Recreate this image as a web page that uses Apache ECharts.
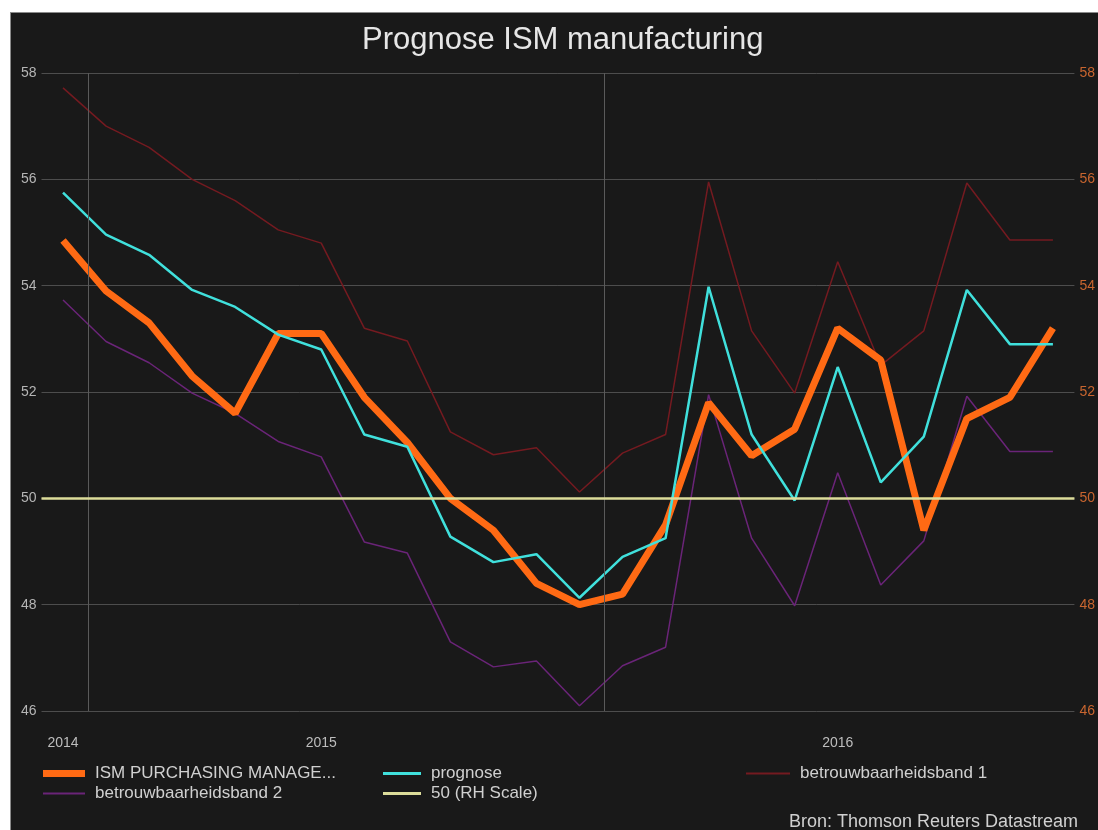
<!DOCTYPE html>
<html>
<head>
<meta charset="utf-8">
<script src="https://cdn.jsdelivr.net/npm/echarts@6/dist/echarts.min.js"></script>
<style>
  html, body { margin: 0; padding: 0; background: #ffffff; }
  #frame { position: absolute; left: 10px; top: 12px; width: 1088px; height: 818px;
           background: #191919; border-left: 1px solid #8a8a8a; border-top: 1px solid #8a8a8a; }
  #chart { position: absolute; left: 0; top: 0; width: 1098px; height: 830px; }
</style>
</head>
<body>
<div id="frame"></div>
<div id="chart"></div>
<script>
// maanden dec 2014 .. nov 2016
var months = ['2014-12', '2015-01', '2015-02', '2015-03', '2015-04', '2015-05', '2015-06',
  '2015-07', '2015-08', '2015-09', '2015-10', '2015-11', '2015-12', '2016-01', '2016-02',
  '2016-03', '2016-04', '2016-05', '2016-06', '2016-07', '2016-08', '2016-09', '2016-10', '2016-11']

var ism = [54.85, 53.9, 53.3, 52.3, 51.6, 53.1, 53.1, 51.9, 51.05, 50.0, 49.4, 48.4,
  48.0, 48.2, 49.5, 51.8, 50.8, 51.3, 53.2, 52.6, 49.4, 51.5, 51.9, 53.2]
var prognose = [55.75, 54.96, 54.58, 53.92, 53.6, 53.08, 52.8, 51.2, 50.97, 49.28, 48.8, 48.95,
  48.13, 48.9, 49.25, 53.98, 51.2, 49.96, 52.47, 50.3, 51.16, 53.92, 52.9, 52.9]
var band1 = [57.72, 57.0, 56.6, 56.0, 55.6, 55.05, 54.8, 53.2, 52.96, 51.25, 50.82, 50.95,
  50.12, 50.85, 51.2, 55.95, 53.15, 51.98, 54.45, 52.5, 53.15, 55.93, 54.86, 54.86]
var band2 = [53.73, 52.95, 52.55, 51.98, 51.6, 51.07, 50.78, 49.18, 48.97, 47.3, 46.83, 46.94,
  46.1, 46.85, 47.2, 51.95, 49.25, 47.98, 50.48, 48.37, 49.2, 51.92, 50.88, 50.88]
var rhLevel = 50

var yearLabelIdx = [0, 6, 18]        // waar de jaartallen staan
var yearBoundaries = [0.58, 12.57]   // jaargrens, in maand-eenheden (1 jan 2015 / 2016)

var chart = echarts.init(document.getElementById('chart'))
window.addEventListener('resize', function () { chart.resize() })

var font = 'Liberation Sans'
var legendText = { color: '#d0d0d0', fontSize: 17, fontFamily: font, padding: [0, 0, 0, 5] }

function legendItem (name, left, top, w, h) {
  return {
    data: [{ name: name, icon: 'rect' }],
    left: left, top: top, padding: 0,
    itemWidth: w, itemHeight: h,
    textStyle: legendText
  }
}

var option = {
  backgroundColor: 'transparent',
  animation: false,
  title: [
    {
      text: 'Prognose ISM manufacturing',
      left: 357, top: 20,
      textStyle: { color: '#e6e6e6', fontSize: 31, fontWeight: 'normal', fontFamily: font }
    },
    {
      text: 'Bron: Thomson Reuters Datastream',
      right: 15, top: 808,
      textStyle: { color: '#d0d0d0', fontSize: 18, fontWeight: 'normal', fontFamily: font }
    }
  ],
  legend: [
    legendItem('ISM PURCHASING MANAGE...', 43, 765, 42, 7),
    legendItem('betrouwbaarheidsband 2', 43, 785, 42, 2),
    legendItem('prognose', 383, 765, 38, 3),
    legendItem('50 (RH Scale)', 383, 785, 38, 3),
    legendItem('betrouwbaarheidsband 1', 746, 765, 44, 2)
  ],
  grid: { left: 41.5, right: 21, top: 73, bottom: 119, containLabel: false },
  xAxis: [
    {
      type: 'category',
      data: months,
      boundaryGap: true,
      axisLine: { show: false },
      axisTick: { show: false },
      axisLabel: {
        interval: function (i) { return yearLabelIdx.indexOf(i) >= 0 },
        formatter: function (v) { return v.slice(0, 4) },
        color: '#bdbdbd', fontSize: 14, fontFamily: font, margin: 25
      },
      splitLine: { show: false }
    },
    {
      // hulp-as voor de jaargrenzen
      type: 'value', min: -0.5, max: months.length - 0.5, show: false
    }
  ],
  yAxis: [
    {
      type: 'value', min: 46, max: 58, interval: 2, position: 'left',
      axisLine: { show: false }, axisTick: { show: false },
      axisLabel: { color: '#b5b5b5', fontSize: 14, fontFamily: font, margin: 5 },
      splitLine: { lineStyle: { color: '#4d4d4d', width: 1 } }
    },
    {
      type: 'value', min: 46, max: 58, interval: 2, position: 'right',
      axisLine: { show: false }, axisTick: { show: false },
      axisLabel: { color: '#c8652f', fontSize: 14, fontFamily: font, margin: 5 },
      splitLine: { show: false }
    }
  ],
  series: [
    {
      name: 'jaargrens', type: 'line', xAxisIndex: 1, data: [], silent: true,
      markLine: {
        silent: true, symbol: ['none', 'none'], label: { show: false },
        lineStyle: { color: '#5a5a5a', width: 1, type: 'solid' },
        data: yearBoundaries.map(function (b) { return { xAxis: b } })
      }
    },
    {
      name: 'betrouwbaarheidsband 1', type: 'line', data: band1, symbol: 'none', z: 2,
      lineStyle: { color: '#741a20', width: 1.5 }, itemStyle: { color: '#741a20' }
    },
    {
      name: 'betrouwbaarheidsband 2', type: 'line', data: band2, symbol: 'none', z: 2,
      lineStyle: { color: '#6a2478', width: 1.5 }, itemStyle: { color: '#6a2478' }
    },
    {
      name: '50 (RH Scale)', type: 'line', yAxisIndex: 1, data: [], symbol: 'none', z: 2,
      lineStyle: { color: '#dcdc9a', width: 2.5 }, itemStyle: { color: '#dcdc9a' },
      markLine: {
        silent: true, symbol: ['none', 'none'], label: { show: false },
        lineStyle: { color: '#dcdc9a', width: 2.5, type: 'solid' },
        data: [{ yAxis: rhLevel }]
      }
    },
    {
      name: 'ISM PURCHASING MANAGE...', type: 'line', data: ism, symbol: 'none', z: 3,
      lineStyle: { color: '#ff6a14', width: 7 }, itemStyle: { color: '#ff6a14' }
    },
    {
      name: 'prognose', type: 'line', data: prognose, symbol: 'none', z: 4,
      lineStyle: { color: '#40e0dc', width: 2.5 }, itemStyle: { color: '#40e0dc' }
    }
  ]
}

chart.setOption(option)
</script>
</body>
</html>
